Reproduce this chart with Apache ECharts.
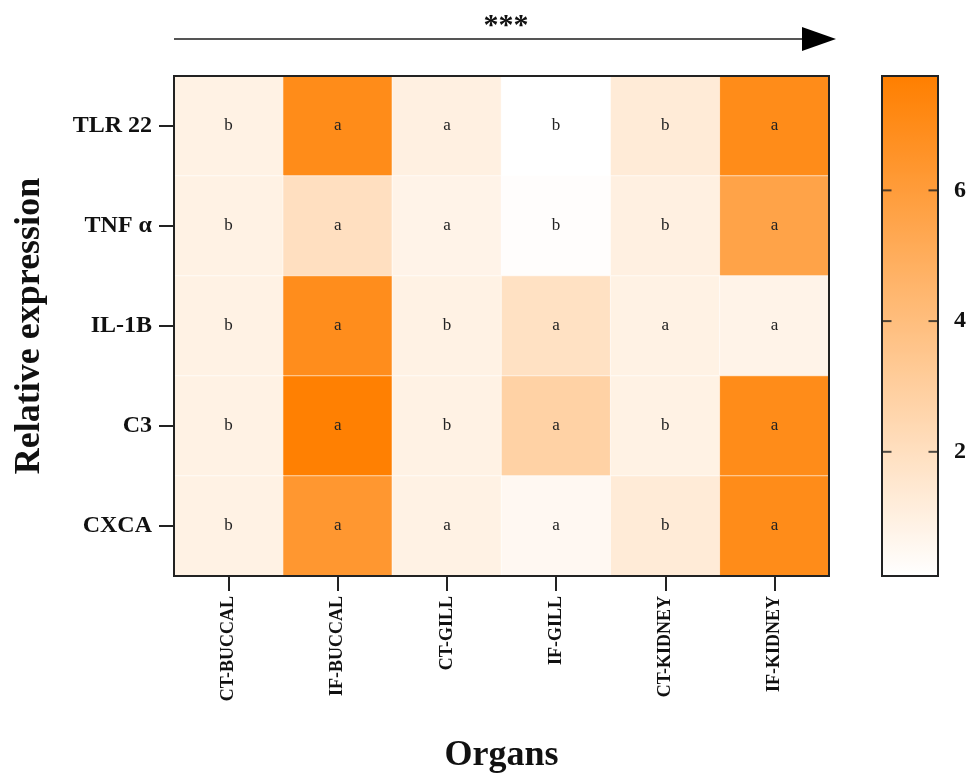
<!DOCTYPE html>
<html>
<head>
<meta charset="utf-8">
<script src="https://cdn.jsdelivr.net/npm/echarts@6/dist/echarts.min.js"></script>
<style>html,body{margin:0;padding:0;background:#fff;}#c{width:973px;height:778px;}</style>
</head>
<body>
<div id="c"></div>
<script>
const organs = ['CT-BUCCAL','IF-BUCCAL','CT-GILL','IF-GILL','CT-KIDNEY','IF-KIDNEY'];
const genes = ['TLR 22','TNF α','IL-1B','C3','CXCA'];
const valTLR22 = [0.9, 7.0, 1.0, 0.1, 1.3, 7.0];
const valTNFa  = [0.9, 2.0, 0.8, 0.2, 1.0, 5.6];
const valIL1B  = [0.9, 6.9, 0.9, 1.9, 0.9, 0.8];
const valC3    = [0.9, 7.7, 0.9, 2.8, 0.9, 7.0];
const valCXCA  = [0.9, 6.3, 0.9, 0.5, 1.3, 7.0];
const letTLR22 = ['b','a','a','b','b','a'];
const letTNFa  = ['b','a','a','b','b','a'];
const letIL1B  = ['b','a','b','a','a','a'];
const letC3    = ['b','a','b','a','b','a'];
const letCXCA  = ['b','a','a','a','b','a'];
const colorTicks = [2, 4, 6];
const scaleMin = 0.1, scaleMax = 7.75;

const values = [valTLR22, valTNFa, valIL1B, valC3, valCXCA];
const letters = [letTLR22, letTNFa, letIL1B, letC3, letCXCA];
const data = [];
values.forEach((row, gi) => row.forEach((v, oi) => data.push([oi, gi, v, letters[gi][oi]])));
const tickMarksLeft = colorTicks.map(v => [0, v]);
const tickMarksRight = colorTicks.map(v => [1, v]);

const FONT = '"Liberation Serif", "DejaVu Serif", serif';
const chart = echarts.init(document.getElementById('c'));
chart.setOption({
  backgroundColor: '#fff',
  animation: false,
  title: {
    text: '***', left: 501, top: 6, textAlign: 'center',
    textStyle: { fontFamily: FONT, fontSize: 30, fontWeight: 'bold', color: '#111' }
  },
  grid: [
    { left: 174, top: 76, width: 655, height: 500, outerBoundsMode: 'none', containLabel: false, show: true, borderColor: '#222', borderWidth: 2, backgroundColor: 'transparent', z: 10 },
    { left: 882, top: 76, width: 56, height: 500, outerBoundsMode: 'none', containLabel: false, show: true, borderColor: '#222', borderWidth: 2, backgroundColor: 'transparent', z: 10 }
  ],
  xAxis: [
    {
      type: 'category', data: organs, gridIndex: 0,
      name: 'Organs', nameLocation: 'middle', nameGap: 162,
      nameTextStyle: { fontFamily: FONT, fontSize: 36, fontWeight: 'bold', color: '#111' },
      axisLine: { show: true, lineStyle: { color: '#222', width: 2 } },
      axisTick: { show: true, alignWithLabel: true, length: 15, lineStyle: { color: '#222', width: 2 } },
      axisLabel: { show: true, rotate: 90, margin: 20, fontFamily: FONT, fontSize: 18, fontWeight: 'bold', color: '#111' },
      splitLine: { show: false }, z: 12
    },
    { type: 'value', gridIndex: 1, show: false, min: 0, max: 1 }
  ],
  yAxis: [
    {
      type: 'category', data: genes, gridIndex: 0, inverse: true,
      name: 'Relative expression', nameLocation: 'middle', nameGap: 126, nameRotate: 90,
      nameTextStyle: { fontFamily: FONT, fontSize: 36, fontWeight: 'bold', color: '#111' },
      axisLine: { show: true, lineStyle: { color: '#222', width: 2 } },
      axisTick: { show: true, alignWithLabel: true, length: 15, lineStyle: { color: '#222', width: 2 } },
      axisLabel: { show: true, margin: 22, fontFamily: FONT, fontSize: 24, fontWeight: 'bold', color: '#111' },
      splitLine: { show: false }, z: 12
    },
    {
      type: 'value', gridIndex: 1, position: 'right', min: scaleMin, max: scaleMax, z: 20,
      axisLine: { show: false },
      axisTick: { show: false },
      axisLabel: { show: true, customValues: colorTicks, margin: 16, fontFamily: FONT, fontSize: 24, fontWeight: 'bold', color: '#111' },
      splitLine: { show: false }
    }
  ],
  visualMap: {
    type: 'continuous', min: scaleMin, max: scaleMax, calculable: false, dimension: 2,
    orient: 'vertical', left: 882, top: 76, itemWidth: 56, itemHeight: 500, padding: 0,
    seriesIndex: 0, z: 2,
    inRange: { color: ['#FFFFFF', '#FF7F00'] },
    hoverLink: false
  },
  graphic: [
    { type: 'line', shape: { x1: 174, y1: 39, x2: 806, y2: 39 }, style: { stroke: '#555', lineWidth: 2 } },
    { type: 'polygon', shape: { points: [[802, 27], [836, 39], [802, 51]] }, style: { fill: '#000' } }
  ],
  series: [
    {
      type: 'heatmap', xAxisIndex: 0, yAxisIndex: 0, data: data,
      encode: { x: 0, y: 1, value: 2 },
      itemStyle: { borderColor: 'rgba(255,255,255,0.6)', borderWidth: 1 },
      label: {
        show: true, formatter: p => p.data[3],
        fontFamily: FONT, fontSize: 17, color: '#222'
      }
    },
    {
      type: 'scatter', xAxisIndex: 1, yAxisIndex: 1, data: tickMarksLeft, z: 30, silent: true,
      symbol: 'rect', symbolSize: [9, 2], symbolOffset: [5, 0],
      itemStyle: { color: '#222' }
    },
    {
      type: 'scatter', xAxisIndex: 1, yAxisIndex: 1, data: tickMarksRight, z: 30, silent: true,
      symbol: 'rect', symbolSize: [9, 2], symbolOffset: [-5, 0],
      itemStyle: { color: '#222' }
    }
  ]
});
</script>
</body>
</html>
